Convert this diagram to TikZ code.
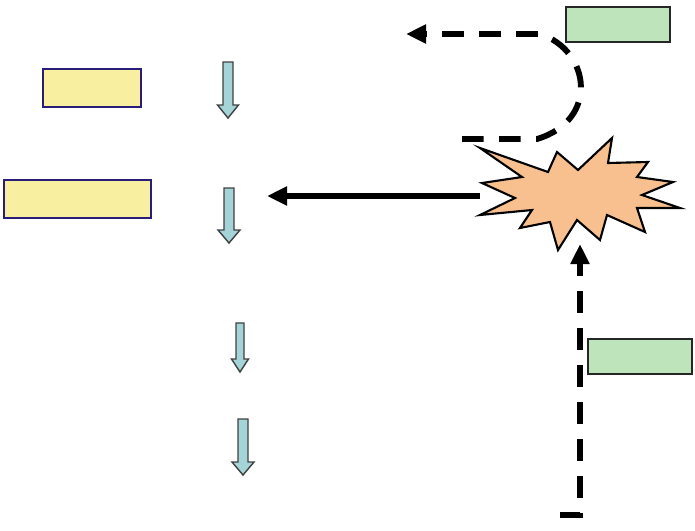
\documentclass[tikz,border=0pt]{standalone}
\usetikzlibrary{arrows.meta}

\definecolor{boxyellow}{RGB}{248,240,160}
\definecolor{boxnavy}{RGB}{40,30,120}
\definecolor{boxgreen}{RGB}{190,228,188}
\definecolor{arrowcyan}{RGB}{165,212,216}
\definecolor{burstpeach}{RGB}{248,192,142}

\tikzset{
  yellowbox/.style={draw=boxnavy, line width=1.8pt, fill=boxyellow, minimum height=11.4mm, inner sep=0pt},
  greenbox/.style={draw=black!85, line width=1.8pt, fill=boxgreen, minimum width=31.2mm, minimum height=10.5mm, inner sep=0pt},
  blockarrow/.style={draw=black!75, line width=1.2pt, fill=arrowcyan, line join=miter},
  flow/.style={line width=5pt, -{Triangle[length=6mm, width=5.4mm]}},
  dashflow/.style={flow, dash pattern=on 6.5mm off 4.6mm}
}

% x, top, bottom, shaft half width, head half width
\newcommand{\blockdown}[5]{%
  \draw[blockarrow] (#1-#4,#2) -- (#1+#4,#2) -- (#1+#4,#3-13) -- (#1+#5,#3-13)
    -- (#1,#3) -- (#1-#5,#3-13) -- (#1-#4,#3-13) -- cycle;}

\begin{document}
\begin{tikzpicture}[x=0.3mm, y=-0.3mm]
  \useasboundingbox (0,0) rectangle (695,530);

  % boxes
  \node[yellowbox, minimum width=29.4mm] (top) at (92,88) {};
  \node[yellowbox, minimum width=44.1mm] (main) at (77.5,199) {};
  \node[greenbox] (input) at (618,24.5) {};
  \node[greenbox] (source) at (640,356.5) {};

  % block arrows
  \blockdown{228}{62}{118}{5}{10.5}
  \blockdown{229}{188}{243}{5}{11}
  \blockdown{240}{323}{372}{4}{8.5}
  \blockdown{243}{419}{475}{5}{11}

  % explosion
  \draw[fill=burstpeach, line width=1.8pt, line join=miter]
    (480,148) -- (548,172) -- (557,152) -- (578,170) -- (612,138) -- (608,163)
    -- (648,162) -- (637,177) -- (673,182) -- (642,195) -- (680,208) -- (637,208)
    -- (645,232) -- (607,215) -- (600,240) -- (577,220) -- (558,250) -- (550,222)
    -- (520,228) -- (532,210) -- (480,215) -- (515,198) -- (482,183) -- (522,177)
    -- cycle;

  % connector ends
  \coordinate (burstW) at (480,196);
  \coordinate (burstS) at (580,244);
  \coordinate (loopstart) at (462,139);
  \coordinate (loopend) at (406,34);
  \coordinate (leftend) at (267,196);
  \coordinate (tail) at (560,515);

  \draw[flow] (burstW) -- (leftend);
  \draw[dashflow] (loopstart) -- (537,139)
    .. controls (600,120) and (590,50) .. (540,34) -- (loopend);
  \draw[dashflow] (tail) -- (580,515) -- (burstS);
\end{tikzpicture}
\end{document}
